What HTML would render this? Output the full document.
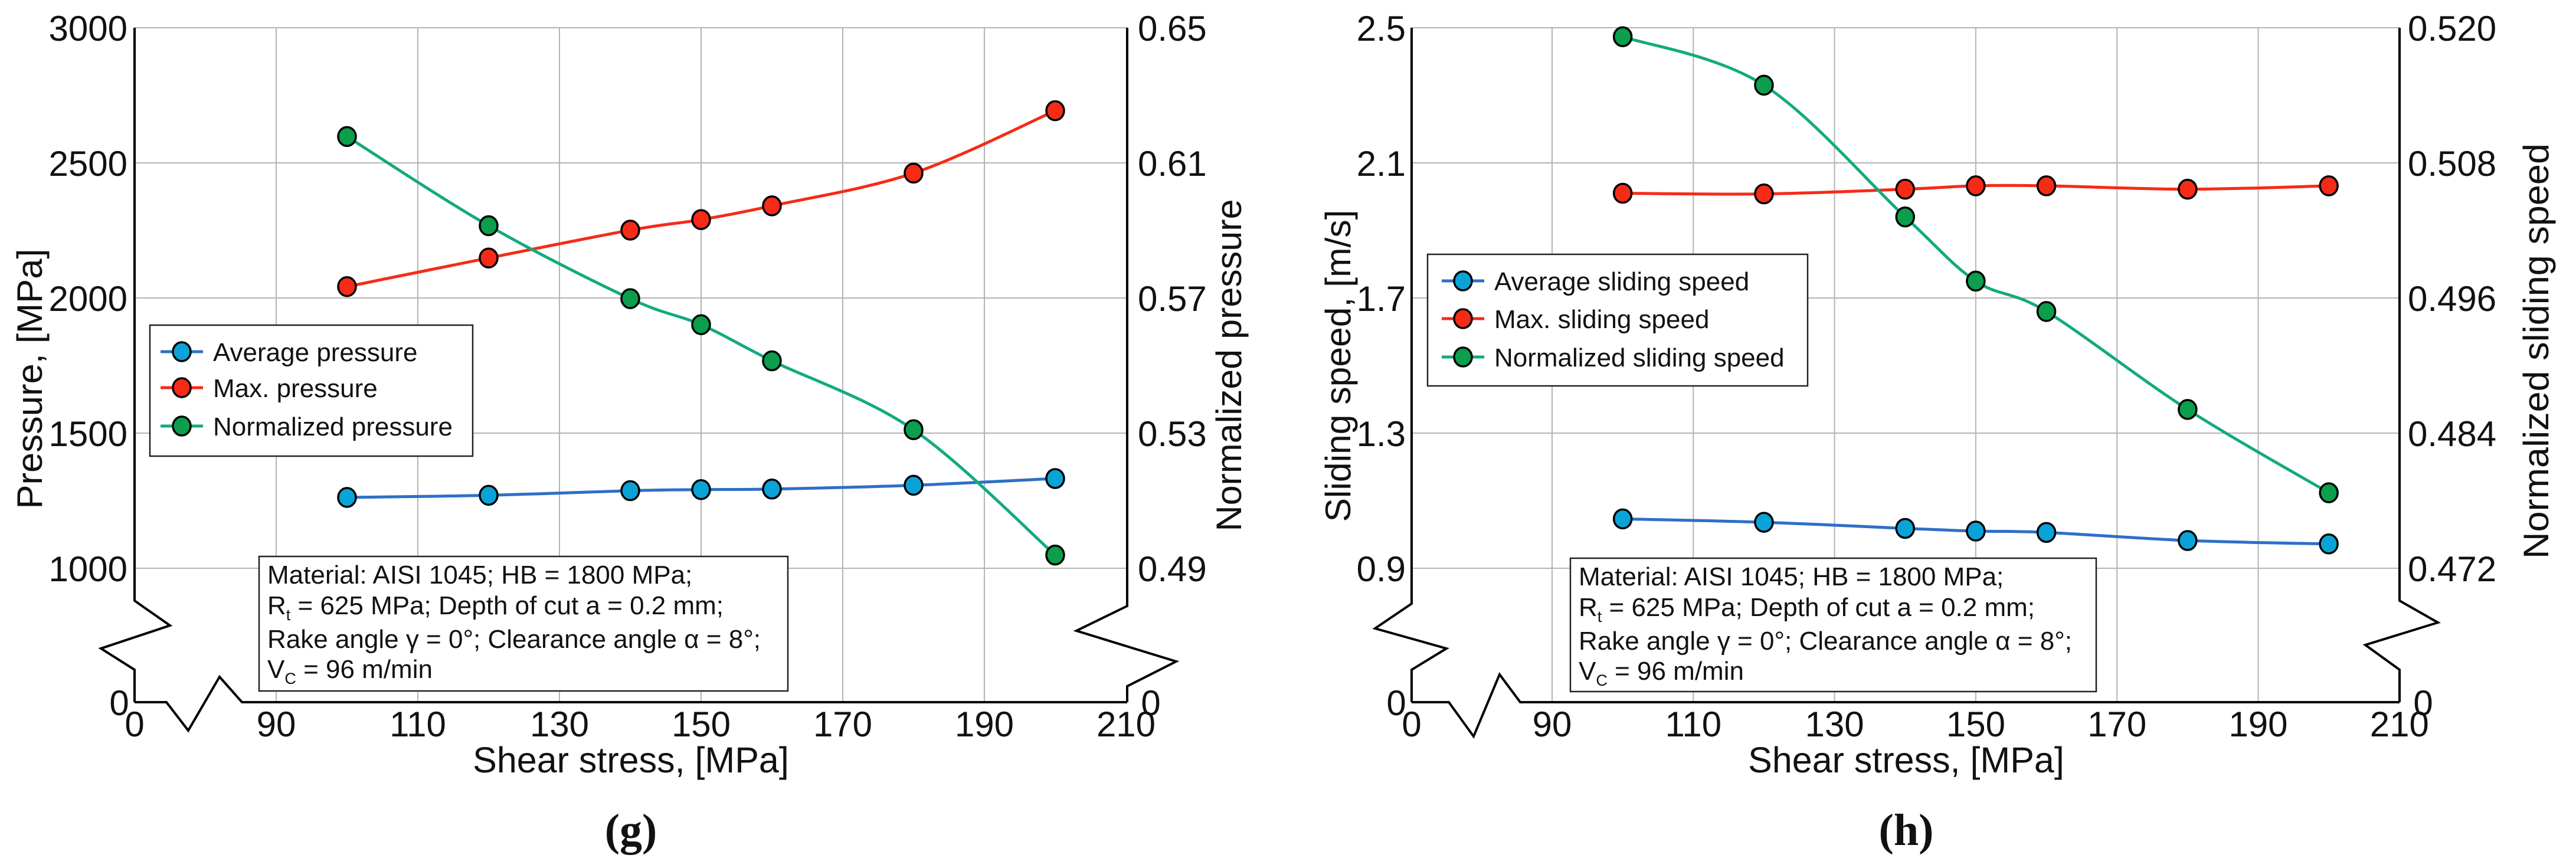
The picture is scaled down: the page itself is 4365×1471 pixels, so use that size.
<!DOCTYPE html>
<html><head><meta charset="utf-8"><style>
html,body{margin:0;padding:0;background:#fff;}
svg{display:block;}
text{font-family:"Liberation Sans",Arial,sans-serif;fill:#111;}
</style></head><body>
<svg id="root" width="4365" height="1471" viewBox="0 0 4365 1471" xmlns="http://www.w3.org/2000/svg">
<rect x="0" y="0" width="4365" height="1471" fill="#fff"/>
<g id="chartG"></g>
<g id="chartH"></g>
</svg>
<script>
// shared x data
const shearStress = [100, 120, 140, 150, 160, 180, 200];
const xTicks = [90, 110, 130, 150, 170, 190, 210];

// chart g data
const gAvgPressure = [1262, 1270, 1287, 1291, 1293, 1307, 1332];
const gMaxPressure = [2042, 2148, 2251, 2290, 2341, 2462, 2693];
const gNormPressure = [0.6178, 0.5914, 0.5698, 0.5621, 0.5514, 0.5310, 0.4939];
const gLeftTicks = ["1000", "1500", "2000", "2500", "3000"];
const gRightTicks = ["0.49", "0.53", "0.57", "0.61", "0.65"];
const gLegend = ["Average pressure", "Max. pressure", "Normalized pressure"];

// chart h data
const hAvgSpeed = [1.046, 1.036, 1.018, 1.010, 1.006, 0.982, 0.972];
const hMaxSpeed = [2.010, 2.008, 2.022, 2.032, 2.032, 2.022, 2.032];
const hNormSpeed = [0.5192, 0.5149, 0.5032, 0.4975, 0.4948, 0.4861, 0.4787];
const hLeftTicks = ["0.9", "1.3", "1.7", "2.1", "2.5"];
const hRightTicks = ["0.472", "0.484", "0.496", "0.508", "0.520"];
const hLegend = ["Average sliding speed", "Max. sliding speed", "Normalized sliding speed"];

const NS = "http://www.w3.org/2000/svg";
function mk(parent, tag, attrs, txt) {
  const e = document.createElementNS(NS, tag);
  for (const k in attrs) e.setAttribute(k, attrs[k]);
  if (txt !== undefined) e.textContent = txt;
  parent.appendChild(e);
  return e;
}
function smoothPath(pts) {
  let d = "M" + pts[0][0] + "," + pts[0][1];
  for (let i = 0; i < pts.length - 1; i++) {
    const p0 = pts[i - 1] || pts[i], p1 = pts[i], p2 = pts[i + 1], p3 = pts[i + 2] || pts[i + 1];
    const t = 6;
    const c1 = [p1[0] + (p2[0] - p0[0]) / t, p1[1] + (p2[1] - p0[1]) / t];
    const c2 = [p2[0] - (p3[0] - p1[0]) / t, p2[1] - (p3[1] - p1[1]) / t];
    d += " C" + c1[0] + "," + c1[1] + " " + c2[0] + "," + c2[1] + " " + p2[0] + "," + p2[1];
  }
  return d;
}
const COLORS = [
  {line: "#2e6fc6", fill: "#0aa3d8"},
  {line: "#f52b18", fill: "#f52b18"},
  {line: "#13aa80", fill: "#0b9e4c"}
];

function drawChart(g, cfg) {
  const xL = cfg.axL, xR = cfg.axR, yTop = 47, yLow = 963, yZero = 1190;
  const xs = v => cfg.x90 + (v - 90) * cfg.per20 / 20;
  const yl = v => yTop + (cfg.lmax - v) / (cfg.lmax - cfg.lmin) * (yLow - yTop);
  const yr = v => yTop + (cfg.rmax - v) / (cfg.rmax - cfg.rmin) * (yLow - yTop);

  for (let i = 0; i < xTicks.length - 1; i++) {
    const l = mk(g, "line", {x1: xs(xTicks[i]), x2: xs(xTicks[i]), y1: yTop, y2: yZero, stroke: "#b4b4b4", "stroke-width": 2});
    
    
  }
  cfg.lticks.forEach((t) => {
    const y = yl(parseFloat(t));
    const l = mk(g, "line", {x1: xL, x2: xR, y1: y, y2: y, stroke: "#b4b4b4", "stroke-width": 2});
    
    
    const tx = mk(g, "text", {x: cfg.lLabX, y: y + 22, "font-size": 60, "text-anchor": "end"}, t);
    
    
  });
  cfg.rticks.forEach((t) => {
    const y = yr(parseFloat(t));
    const tx = mk(g, "text", {x: cfg.rLabX, y: y + 22, "font-size": 60}, t);
    
    
  });
  xTicks.forEach(v => {
    const tx = mk(g, "text", {x: xs(v), y: 1248, "font-size": 60, "text-anchor": "middle"}, String(v));
    
    
  });
  const z1 = mk(g, "text", {x: xL, y: 1248, "font-size": 60, "text-anchor": "middle"}, "0");
  
  
  const z2 = mk(g, "text", {x: xL - 26, y: 1212, "font-size": 60, "text-anchor": "middle"}, "0");
  
  
  const z3 = mk(g, "text", {x: xR + 40, y: 1212, "font-size": 60, "text-anchor": "middle"}, "0");
  
  

  const ax = (pts, name) => {
    const p = mk(g, "polyline", {points: pts.map(p => p.join(",")).join(" "), fill: "none", stroke: "#000", "stroke-width": 4, "stroke-linejoin": "miter"});
    
    
  };
  ax([[xL, yTop]].concat(cfg.lbreak).concat([[xL, yZero]]), "left-y-axis");
  ax([[xR, yTop]].concat(cfg.rbreak).concat([[xR, yZero]]), "right-y-axis");
  ax([[xL, yZero]].concat(cfg.xbreak).concat([[xR, yZero]]), "x-axis");

  const xt = mk(g, "text", {x: cfg.xTitleX, y: 1309, "font-size": 61, "text-anchor": "middle"}, "Shear stress, [MPa]");
  
  
  const lt = mk(g, "text", {x: 0, y: 0, "font-size": 60, "text-anchor": "middle", transform: "translate(" + cfg.lTitle[0] + "," + cfg.lTitle[1] + ") rotate(-90)", textLength: cfg.lTitle[2], lengthAdjust: "spacingAndGlyphs"}, cfg.lTitleText);
  
  
  const rt = mk(g, "text", {x: 0, y: 0, "font-size": 60, "text-anchor": "middle", transform: "translate(" + cfg.rTitle[0] + "," + cfg.rTitle[1] + ") rotate(-90)", textLength: cfg.rTitle[2], lengthAdjust: "spacingAndGlyphs"}, cfg.rTitleText);
  
  
  const pl = mk(g, "text", {x: cfg.xTitleX, y: 1432, "font-size": 76, "text-anchor": "middle", "font-weight": "bold", style: "font-family:'Liberation Serif',serif"}, cfg.panel);
  
  

  const ib = cfg.info;
  const ig = mk(g, "g", {});
  
  
  mk(ig, "rect", {x: ib[0], y: ib[1], width: ib[2] - ib[0], height: ib[3] - ib[1], fill: "#fff", stroke: "#222", "stroke-width": 2.5});
  const tx0 = ib[0] + 14, fs = 44;
  mk(ig, "text", {x: tx0, y: ib[1] + 46, "font-size": fs}, "Material: AISI 1045; HB = 1800 MPa;");
  const l2 = mk(ig, "text", {x: tx0, y: ib[1] + 98, "font-size": fs});
  l2.innerHTML = 'R<tspan font-size="27" dy="10">t</tspan><tspan dy="-10"> = 625 MPa; Depth of cut a = 0.2 mm;</tspan>';
  mk(ig, "text", {x: tx0, y: ib[1] + 155, "font-size": fs}, "Rake angle \u03b3 = 0\u00b0; Clearance angle \u03b1 = 8\u00b0;");
  const l4 = mk(ig, "text", {x: tx0, y: ib[1] + 206, "font-size": fs});
  l4.innerHTML = 'V<tspan font-size="27" dy="10">C</tspan><tspan dy="-10"> = 96 m/min</tspan>';

  const series = [
    {vals: cfg.s[0], fn: yl, name: "average"},
    {vals: cfg.s[1], fn: yl, name: "max"},
    {vals: cfg.s[2], fn: yr, name: "normalized"}
  ];
  series.forEach((s, si) => {
    const sg = mk(g, "g", {});
    
    
    const pts = shearStress.map((x, i) => [xs(x), s.fn(s.vals[i])]);
    const p = mk(sg, "path", {d: smoothPath(pts), fill: "none", stroke: COLORS[si].line, "stroke-width": 5});
    
    
    pts.forEach(pt => {
      const c = mk(sg, "ellipse", {cx: pt[0], cy: pt[1], rx: 15, ry: 16, fill: COLORS[si].fill, stroke: "#000", "stroke-width": 3.5});
      
      
    });
  });

  const lg = cfg.legend;
  const legG = mk(g, "g", {});
  
  
  mk(legG, "rect", {x: lg.box[0], y: lg.box[1], width: lg.box[2] - lg.box[0], height: lg.box[3] - lg.box[1], fill: "#fff", stroke: "#222", "stroke-width": 2.5});
  cfg.legendText.forEach((t, i) => {
    const y = lg.ys[i];
    const eg = mk(legG, "g", {});
    
    
    mk(eg, "line", {x1: lg.mx - 36, x2: lg.mx + 36, y1: y, y2: y, stroke: COLORS[i].line, "stroke-width": 5});
    mk(eg, "ellipse", {cx: lg.mx, cy: y, rx: 15, ry: 16, fill: COLORS[i].fill, stroke: "#000", "stroke-width": 3.5});
    mk(eg, "text", {x: lg.tx, y: y + 16, "font-size": 44}, t);
  });
}

drawChart(document.getElementById("chartG"), {
  axL: 228, axR: 1910, x90: 468, per20: 240,
  lmin: 1000, lmax: 3000, rmin: 0.49, rmax: 0.65,
  lticks: gLeftTicks, rticks: gRightTicks,
  lLabX: 216, rLabX: 1928,
  lbreak: [[228, 1018], [288, 1060], [171, 1099], [228, 1135]],
  rbreak: [[1910, 1027], [1824, 1069], [1993, 1121], [1910, 1163]],
  xbreak: [[282, 1190], [319, 1238], [372, 1147], [410, 1190]],
  xTitleX: 1069, lTitle: [71, 642, 441], rTitle: [2103, 619, 563],
  lTitleText: "Pressure, [MPa]", rTitleText: "Normalized pressure", panel: "(g)",
  info: [439, 943, 1335, 1171],
  s: [gAvgPressure, gMaxPressure, gNormPressure],
  legend: {box: [254, 551, 801, 773], ys: [596, 657, 722], mx: 308, tx: 361},
  legendText: gLegend
});
drawChart(document.getElementById("chartH"), {
  axL: 2392, axR: 4066, x90: 2630, per20: 239.3,
  lmin: 0.9, lmax: 2.5, rmin: 0.472, rmax: 0.520,
  lticks: hLeftTicks, rticks: hRightTicks,
  lLabX: 2382, rLabX: 4080,
  lbreak: [[2392, 1023], [2330, 1065], [2451, 1099], [2392, 1135]],
  rbreak: [[4066, 1018], [4131, 1055], [4008, 1093], [4066, 1135]],
  xbreak: [[2455, 1190], [2497, 1248], [2541, 1143], [2576, 1190]],
  xTitleX: 3230, lTitle: [2288, 620, 529], rTitle: [4318, 595, 704],
  lTitleText: "Sliding speed, [m/s]", rTitleText: "Normalized sliding speed", panel: "(h)",
  info: [2661, 946, 3552, 1172],
  s: [hAvgSpeed, hMaxSpeed, hNormSpeed],
  legend: {box: [2419, 431, 3063, 654], ys: [476, 540, 605], mx: 2479, tx: 2532},
  legendText: hLegend
});
</script>
</body></html>
